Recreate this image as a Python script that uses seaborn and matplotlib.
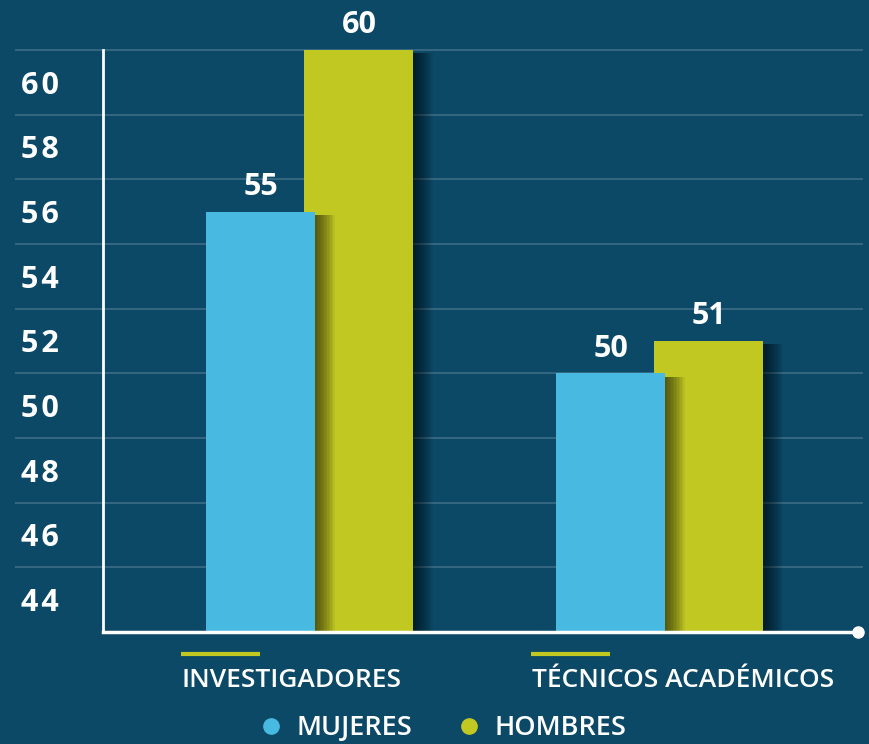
import pandas as pd
import matplotlib
matplotlib.use("Agg")
import matplotlib.pyplot as plt
import seaborn as sns
from matplotlib.patches import Rectangle
from matplotlib.lines import Line2D

# ------------------------------------------
# Data
# ------------------------------------------
categorias = ["INVESTIGADORES", "TÉCNICOS ACADÉMICOS"]
generos = ["MUJERES", "HOMBRES"]
mujeres = [55, 50]
hombres = [60, 51]
y_ticks = [44, 46, 48, 50, 52, 54, 56, 58, 60]

df = pd.DataFrame({
    "categoria": categorias * 2,
    "genero": [generos[0]] * 2 + [generos[1]] * 2,
    "valor": mujeres + hombres,
})

# ------------------------------------------
# Style
# ------------------------------------------
bg = "#0b4966"
azul = "#48bae2"
verde = "#c2c822"

sns.set_style("white")
plt.rcParams["font.family"] = ["Open Sans", "DejaVu Sans"]

fig = plt.figure(figsize=(8.7, 7.44), dpi=100)
fig.patch.set_facecolor(bg)
ax = fig.add_axes([103 / 870, 112 / 744, 755 / 870, 582 / 744])
ax.set_facecolor(bg)

px = 1 / 350  # data units per pixel along x

sns.barplot(data=df, x="categoria", y="valor", hue="genero",
            palette=[azul, verde], width=0.56, legend=False,
            saturation=1, ax=ax)

ax.set_xlim(-207 * px, 1 + 198 * px)
ax.set_ylim(42, 60)

# widen the bars a little so they overlap, women bars on top
for i, cont in enumerate(ax.containers):
    for bar in cont:
        c = bar.get_x() + bar.get_width() / 2
        bar.set_width(109 * px)
        bar.set_x(c - 109 * px / 2)
        bar.set_edgecolor("none")
        bar.set_zorder(3 if i == 0 else 2)

# soft drop shadows just right of every bar
for cont in ax.containers:
    for bar in cont:
        x1 = bar.get_x() + bar.get_width()
        for k in range(1, 14):
            sh = Rectangle((x1, bar.get_y()), k * 1.5 * px, bar.get_height() - 0.1,
                           facecolor="black", edgecolor="none", alpha=0.055, zorder=2.5)
            ax.add_patch(sh)

# value labels
for cont in ax.containers:
    ax.bar_label(cont, fmt="%d", padding=7, color="white",
                 fontsize=22, fontweight="bold")

# grid lines (extend past the axes on both sides)
ax.hlines(y_ticks, -88 / 755, 1 + 5 / 755, transform=ax.get_yaxis_transform(),
          color="white", alpha=0.2, lw=1.2, zorder=0.5, clip_on=False)

# y labels sit in the bands between grid lines
ax.set_yticks(y_ticks, labels=[""] * len(y_ticks))
ax.set_yticks([t - 1 for t in y_ticks],
              labels=["\u200a".join(str(t)) for t in y_ticks], minor=True)
ax.tick_params(axis="y", which="both", length=0)
ax.tick_params(axis="y", which="minor", pad=32, labelsize=22, labelcolor="white")
for lab in ax.get_yticklabels(minor=True):
    lab.set_fontweight("bold")

# category labels with accent line, left aligned
ax.set_xticks([])
ax.set_xlabel("")
ax.set_ylabel("")
for i, cat in enumerate(categorias):
    ax.text(i - 128 * px, -55 / 582, cat, transform=ax.get_xaxis_transform(),
            ha="left", va="baseline", color="white", fontsize=19, fontweight="semibold")
    ax.plot([i - 129 * px, i - 50 * px], [-22 / 582, -22 / 582],
            transform=ax.get_xaxis_transform(), color=verde, lw=3,
            solid_capstyle="butt", clip_on=False)

# axes lines
sns.despine(ax=ax, top=True, right=True)
ax.spines["left"].set_color("white")
ax.spines["left"].set_linewidth(2)
ax.spines["bottom"].set_color("white")
ax.spines["bottom"].set_linewidth(2.5)
ax.spines["left"].set_zorder(4)
ax.spines["bottom"].set_zorder(4)
ax.plot([1], [0], "o", transform=ax.transAxes, color="white", ms=8,
        clip_on=False, zorder=5)

# legend
handles = [Line2D([], [], marker="o", ls="", color=c, ms=11) for c in [azul, verde]]
leg = fig.legend(handles, generos, loc="center", bbox_to_anchor=(442 / 870, 1 - 728 / 744),
                 ncol=2, frameon=False, fontsize=19.5, handlelength=1,
                 handletextpad=0.45, columnspacing=1.6, labelcolor="white",
                 borderpad=0.1)
for t in leg.get_texts():
    t.set_fontweight("semibold")

fig.savefig("out.png", dpi=100, facecolor=bg)
